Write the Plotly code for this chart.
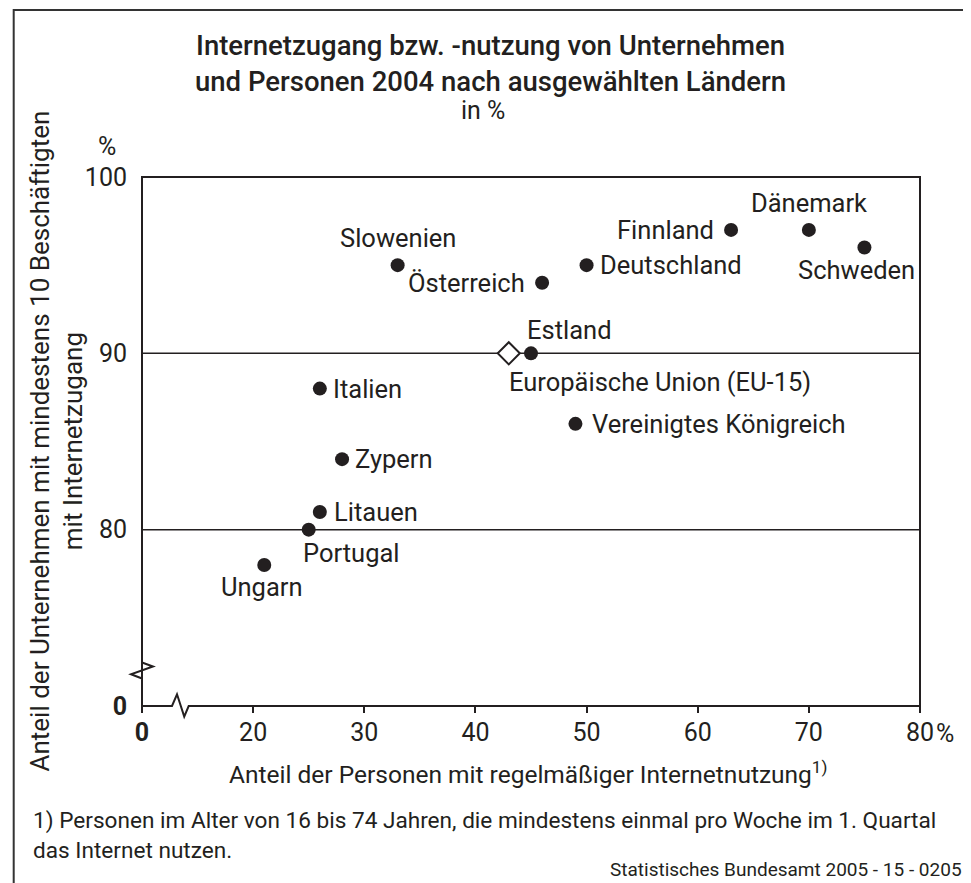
import plotly.graph_objects as go

# ---------------- data ----------------
countries = ["Ungarn", "Portugal", "Litauen", "Zypern", "Italien", "Slowenien",
             "Österreich", "Deutschland", "Estland", "Vereinigtes Königreich",
             "Finnland", "Dänemark", "Schweden"]
personen = [21, 25, 26, 28, 26, 33, 46, 50, 45, 49, 63, 70, 75]
unternehmen = [78, 80, 81, 84, 88, 95, 94, 95, 90, 86, 97, 97, 96]

eu_name = "Europäische Union (EU-15)"
eu_personen = [43]
eu_unternehmen = [90]

x_tickvals = [10, 20, 30, 40, 50, 60, 70, 80]
x_ticktext = ["<b>0</b>", "20", "30", "40", "50", "60", "70", "80"]
y_tickvals = [70, 80, 90, 100]
y_ticktext = ["<b>0</b>", "80", "90", "100"]
grid_values = [80, 90]

# ---------------- style ----------------
FONT = "Roboto"
INK = "#231f20"
OFF = 8                       # page body margin of the html page
W, H = 971 - OFF, 883 - OFF
ML, PW = 134, 778
MT, PH = 169, 529
MR = W - ML - PW
MB = H - MT - PH
XR = [10, 80]
YR = [70, 100]

def px_x(px):  # page pixel -> paper x
    return (px - OFF - ML) / PW

def px_y(py):  # page pixel -> paper y
    return (MT + PH - (py - OFF)) / PH

def dx(v):  # data x -> paper
    return (v - XR[0]) / (XR[1] - XR[0])

def dy(v):  # data y -> paper
    return (v - YR[0]) / (YR[1] - YR[0])

LBL = 25.5
# label placement (anchor, shifts)
label_pos = {
    "Slowenien": ("center", "bottom", 0, 10),
    "Österreich": ("right", "middle", -15, 0),
    "Deutschland": ("left", "middle", 11, 0),
    "Finnland": ("right", "middle", -15, 0),
    "Dänemark": ("center", "bottom", 0, 10),
    "Schweden": ("center", "top", -8, -5),
    "Estland": ("left", "bottom", -6, 6),
    "Italien": ("left", "middle", 11, 0),
    "Zypern": ("left", "middle", 11, 0),
    "Litauen": ("left", "middle", 12, 0),
    "Portugal": ("left", "top", -8, -6),
    "Ungarn": ("center", "top", -2, -5),
    "Vereinigtes Königreich": ("left", "middle", 15, 0),
}

fig = go.Figure()
fig.add_trace(go.Scatter(
    x=personen, y=unternehmen, mode="markers",
    marker=dict(symbol="circle", size=14, color=INK, line=dict(width=0)),
    hoverinfo="text", text=countries, showlegend=False, cliponaxis=False))
fig.add_trace(go.Scatter(
    x=eu_personen, y=eu_unternehmen, mode="markers",
    marker=dict(symbol="diamond", size=17, color="white", line=dict(width=2, color=INK)),
    hoverinfo="text", text=[eu_name], showlegend=False, cliponaxis=False))

annotations = []
for name, xv, yv in zip(countries, personen, unternehmen):
    xa, ya, xs, ys = label_pos[name]
    annotations.append(dict(x=xv, y=yv, xref="x", yref="y", text=name, showarrow=False,
                            xanchor=xa, yanchor=ya, xshift=xs, yshift=ys,
                            font=dict(family=FONT, size=LBL, color=INK)))
annotations.append(dict(x=eu_personen[0], y=eu_unternehmen[0], xref="x", yref="y", text=eu_name,
                        showarrow=False, xanchor="left", yanchor="top", xshift=-2, yshift=-12,
                        font=dict(family=FONT, size=LBL, color=INK)))

# title
annotations.append(dict(x=px_x(490), y=px_y(27), xref="paper", yref="paper",
                        text="Internetzugang bzw. -nutzung von Unternehmen<br>und Personen 2004 nach ausgewählten Ländern",
                        showarrow=False, xanchor="center", yanchor="top", align="center",
                        font=dict(family=FONT, size=27.5, color=INK, weight=500)))
annotations.append(dict(x=px_x(483), y=px_y(111), xref="paper", yref="paper", text="in %",
                        showarrow=False, xanchor="center", yanchor="middle",
                        font=dict(family=FONT, size=25, color=INK)))
# % above y axis
annotations.append(dict(x=px_x(107), y=px_y(147), xref="paper", yref="paper", text="%",
                        showarrow=False, xanchor="center", yanchor="middle",
                        font=dict(family=FONT, size=25, color=INK)))
# % after 80
annotations.append(dict(x=px_x(934), y=px_y(733), xref="paper", yref="paper", text="%",
                        showarrow=False, xanchor="left", yanchor="middle",
                        font=dict(family=FONT, size=25, color=INK)))
# y axis title
annotations.append(dict(x=px_x(56), y=0.5, xref="paper", yref="paper",
                        text="Anteil der Unternehmen mit mindestens 10 Beschäftigten<br>mit Internetzugang",
                        showarrow=False, textangle=-90, xanchor="center", yanchor="middle",
                        font=dict(family=FONT, size=26, color=INK)))
# x axis title
annotations.append(dict(x=px_x(528), y=px_y(773), xref="paper", yref="paper",
                        text="Anteil der Personen mit regelmäßiger Internetnutzung<sup>1)</sup>",
                        showarrow=False, xanchor="center", yanchor="middle",
                        font=dict(family=FONT, size=24.5, color=INK)))
# footnote
annotations.append(dict(x=px_x(32), y=px_y(820), xref="paper", yref="paper",
                        text="1) Personen im Alter von 16 bis 74 Jahren, die mindestens einmal pro Woche im 1. Quartal",
                        showarrow=False, xanchor="left", yanchor="middle", borderpad=0,
                        font=dict(family=FONT, size=22.6, color=INK)))
annotations.append(dict(x=px_x(32), y=px_y(850), xref="paper", yref="paper",
                        text="das Internet nutzen.",
                        showarrow=False, xanchor="left", yanchor="middle", borderpad=0,
                        font=dict(family=FONT, size=22.6, color=INK)))
annotations.append(dict(x=px_x(963), y=px_y(869), xref="paper", yref="paper",
                        text="Statistisches Bundesamt 2005 - 15 - 0205",
                        showarrow=False, xanchor="right", yanchor="middle", borderpad=0,
                        font=dict(family=FONT, size=19, color=INK)))

shapes = []
# gridlines
for g in grid_values:
    shapes.append(dict(type="line", xref="paper", yref="y", x0=0, x1=1, y0=g, y1=g,
                       line=dict(color=INK, width=1.5), layer="below"))

# axis frame with break marks (paper coordinates)
zx0, zx1, zx2, zx3 = dx(12.7), dx(13.15), dx(13.8), dx(14.2)
up, down = 11.7 / PH, -10.6 / PH
zy0, zy1, zy2, zy3 = dy(72.47), dy(72.24), dy(71.8), dy(71.56)
right_off, left_off = 11 / PW, -11 / PW
path = (f"M 0 1 L 0 {zy0} L {right_off} {zy1} L {left_off} {zy2} L 0 {zy3} L 0 {-7/PH} "
        f"M 0 0 L {zx0} 0 L {zx1} {up} L {zx2} {down} L {zx3} 0 L 1 0 L 1 1 L 0 1 Z")
shapes.append(dict(type="path", xref="paper", yref="paper", path=path,
                   line=dict(color=INK, width=2), fillcolor="rgba(0,0,0,0)", layer="above"))
# outer frame (left and top)
shapes.append(dict(type="path", xref="paper", yref="paper",
                   path=f"M {px_x(13.7)} {px_y(895)} L {px_x(13.7)} {px_y(10)} L {px_x(985)} {px_y(10)}",
                   line=dict(color="#333333", width=2)))

fig.update_layout(
    width=W, height=H,
    margin=dict(l=ML, r=MR, t=MT, b=MB),
    paper_bgcolor="white", plot_bgcolor="white",
    font=dict(family=FONT, size=24, color=INK),
    xaxis=dict(range=XR, tickvals=x_tickvals, ticktext=x_ticktext, showgrid=False,
               zeroline=False, showline=False, ticks="outside", ticklen=6, tickwidth=1.5,
               tickcolor=INK, ticklabelstandoff=-2,
               tickfont=dict(family=FONT, size=25, color=INK), fixedrange=True),
    yaxis=dict(range=YR, tickvals=y_tickvals, ticktext=y_ticktext, showgrid=False,
               zeroline=False, showline=False, ticks="", ticklabelstandoff=14,
               tickfont=dict(family=FONT, size=25, color=INK), fixedrange=True),
    annotations=annotations, shapes=shapes,
)

fig.write_html("out.html")
